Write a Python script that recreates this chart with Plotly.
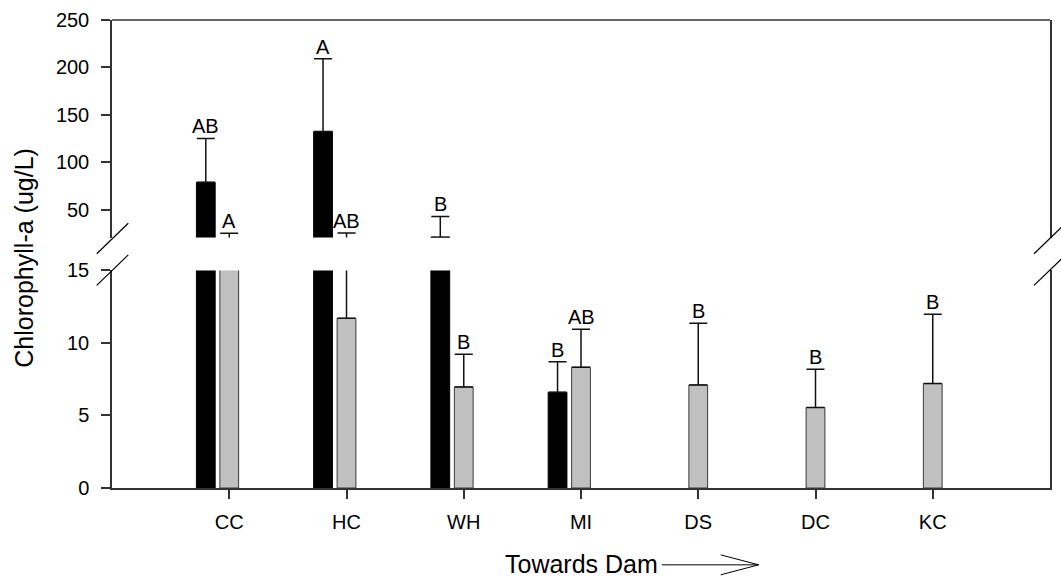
import plotly.graph_objects as go

# Sampling sites, ordered downstream towards the dam
sites = ["CC", "HC", "WH", "MI", "DS", "DC", "KC"]

# Black series (first four sites only)
black_mean = [79.0, 132.6, 21.3, 6.6]
black_err = [46.3, 76.7, 21.8, 2.1]
black_letters = ["AB", "A", "B", "B"]

# Gray series (all sites)
gray_mean = [18.0, 11.7, 6.97, 8.33, 7.11, 5.55, 7.2]
gray_err = [7.4, 14.1, 2.25, 2.61, 4.25, 2.64, 4.78]
gray_letters = ["A", "AB", "B", "AB", "B", "B", "B"]

lower_ticks = [0, 5, 10, 15]
upper_ticks = [50, 100, 150, 200, 250]
LOWER_RANGE = [0, 15]
UPPER_RANGE = [20.9, 250]

W, H = 1061, 580
ML, MR, MT, MB = 112, 9, 19, 92
PW, PH = W - ML - MR, H - MT - MB
FONT = "Liberation Sans, Arial, sans-serif"
AXIS_COLOR = "#333333"


def px_x(x):
    return (x - ML) / PW


def px_y(y):
    return (H - MB - y) / PH


LOWER_DOM = [0.0, px_y(270)]
UPPER_DOM = [px_y(237), 1.0]

BAR_W = 0.16
BLACK_SHIFT = -0.2

x_black = [i + BLACK_SHIFT for i in range(len(black_mean))]
x_gray = list(range(len(gray_mean)))

fig = go.Figure()

series = [
    (x_black, black_mean, black_err, "#000000", "#000000"),
    (x_gray, gray_mean, gray_err, "#c0c0c0", "#3a3a3a"),
]
for xs, ys, es, fill, edge in series:
    for yax in ("y", "y2"):
        fig.add_trace(go.Bar(
            x=xs, y=ys, width=BAR_W, xaxis="x", yaxis=yax,
            marker=dict(color=fill, line=dict(color=edge, width=1)),
            error_y=dict(type="data", symmetric=False, array=es,
                         arrayminus=[0] * len(es), color="#111111",
                         thickness=1.5, width=9),
            showlegend=False, hoverinfo="skip",
        ))

# Significance letters above each error bar
annotations = []
for xs, ys, es, letters in [(x_black, black_mean, black_err, black_letters),
                            (x_gray, gray_mean, gray_err, gray_letters)]:
    for x, m, e, t in zip(xs, ys, es, letters):
        top = m + e
        annotations.append(dict(
            x=x, y=top, xref="x", yref="y2" if top > LOWER_RANGE[1] else "y",
            text=t, showarrow=False, yanchor="bottom", xanchor="center",
            font=dict(family=FONT, size=20, color="#000000"), yshift=-1,
        ))

annotations.append(dict(
    x=px_x(24), y=px_y(257), xref="paper", yref="paper",
    text="Chlorophyll-a (ug/L)", textangle=-90, showarrow=False,
    xanchor="center", yanchor="middle",
    font=dict(family=FONT, size=25, color="#000000"),
))
annotations.append(dict(
    x=0.5, y=px_y(564), xref="paper", yref="paper",
    text="Towards Dam", showarrow=False, xanchor="center", yanchor="middle",
    font=dict(family=FONT, size=25, color="#000000"),
))

shapes = []


def seg(x0, y0, x1, y1, color=AXIS_COLOR, width=1.2):
    shapes.append(dict(type="line", xref="paper", yref="paper",
                       x0=px_x(x0), y0=px_y(y0), x1=px_x(x1), y1=px_y(y1),
                       line=dict(color=color, width=width)))


# top frame line
seg(ML, MT, W - MR, MT, width=1.5)
# axis break marks, left and right
for bx in (96.7, 1036):
    seg(bx, 253.3, bx + 31.6, 222.7, color="#000000")
    seg(bx, 285.0, bx + 31.6, 254.4, color="#000000")
# arrow after the axis title
seg(663, 565, 760, 565, color="#000000", width=1)
seg(722, 555, 760, 565, color="#000000", width=1)
seg(722, 575, 760, 565, color="#000000", width=1)

axis_common = dict(showline=True, linecolor=AXIS_COLOR, linewidth=1.5,
                   ticks="outside", ticklen=9, tickwidth=1.5,
                   tickcolor=AXIS_COLOR, showgrid=False, zeroline=False,
                   tickfont=dict(family=FONT, size=20, color="#000000"))

fig.update_layout(
    width=W, height=H,
    margin=dict(l=ML, r=MR, t=MT, b=MB, pad=0),
    paper_bgcolor="white", plot_bgcolor="white",
    barmode="overlay",
    xaxis=dict(range=[-1, 7], tickvals=list(range(len(sites))),
               ticktext=sites, anchor="y", ticklabelstandoff=6,
               **axis_common),
    yaxis=dict(domain=LOWER_DOM, range=LOWER_RANGE, tickvals=lower_ticks,
               mirror=True, anchor="x", ticklabelstandoff=8, **axis_common),
    yaxis2=dict(domain=UPPER_DOM, range=UPPER_RANGE, tickvals=upper_ticks,
                mirror=True, anchor="x", ticklabelstandoff=8, **axis_common),
    annotations=annotations,
    shapes=shapes,
)

fig.write_html("out.html")
